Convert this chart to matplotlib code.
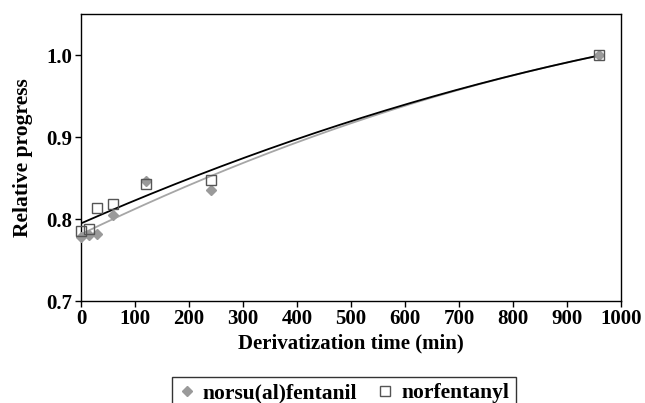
import numpy as np
import matplotlib
matplotlib.use("Agg")
from matplotlib import pyplot as plt

plt.rcParams['font.family'] = ['Liberation Serif', 'DejaVu Serif']
plt.rcParams['font.weight'] = 'bold'

time_min = [0, 15, 30, 60, 120, 240, 960]
norsu = [0.778, 0.781, 0.782, 0.805, 0.847, 0.836, 1.0]
norfen = [0.785, 0.788, 0.814, 0.818, 0.843, 0.848, 1.0]

fig = plt.figure(figsize=(6.45, 4.03), dpi=100)
ax = fig.add_axes([0.1256, 0.253, 0.837, 0.712])

xs = np.linspace(0, 960, 200)
# polynomial trendlines (order 2), like the spreadsheet ones
p1 = np.polyfit(time_min, norsu, 2)
p2 = np.polyfit(time_min, norfen, 2)
ax.plot(xs, np.polyval(p1, xs), color='#a6a6a6', lw=1.3, zorder=2)
ax.plot(xs, np.polyval(p2, xs), color='black', lw=1.3, zorder=2)

ax.plot(time_min, norsu, 'D', ms=5.5, color='#9a9a9a', mec='#9a9a9a',
        label='norsu(al)fentanil', zorder=3, clip_on=False)
ax.plot(time_min, norfen, 's', ms=7, mfc='none', mec='#555555', mew=1,
        label='norfentanyl', zorder=4, clip_on=False)

ax.set_xlim(0, 1000)
ax.set_ylim(0.7, 1.05)
ax.set_xticks(range(0, 1001, 100))
ax.set_yticks([0.7, 0.8, 0.9, 1.0])
ax.set_yticklabels(['0.7', '0.8', '0.9', '1.0'])
ax.tick_params(labelsize=15, direction='out', length=4, width=1, pad=2)
for s in ax.spines.values():
    s.set_linewidth(1)

ax.set_xlabel('Derivatization time (min)', fontsize=15, fontweight='bold', labelpad=3)
ax.set_ylabel('Relative progress', fontsize=15.5, fontweight='bold', labelpad=10)

leg = fig.legend(loc='upper center', bbox_to_anchor=(0.533, 0.092), ncol=2, fontsize=15.5,
                 frameon=True, fancybox=False, edgecolor='black', handlelength=0.8,
                 handletextpad=0.35, columnspacing=0.9, borderpad=0.3)
leg.get_frame().set_linewidth(1)

fig.savefig('out.png', dpi=100)
